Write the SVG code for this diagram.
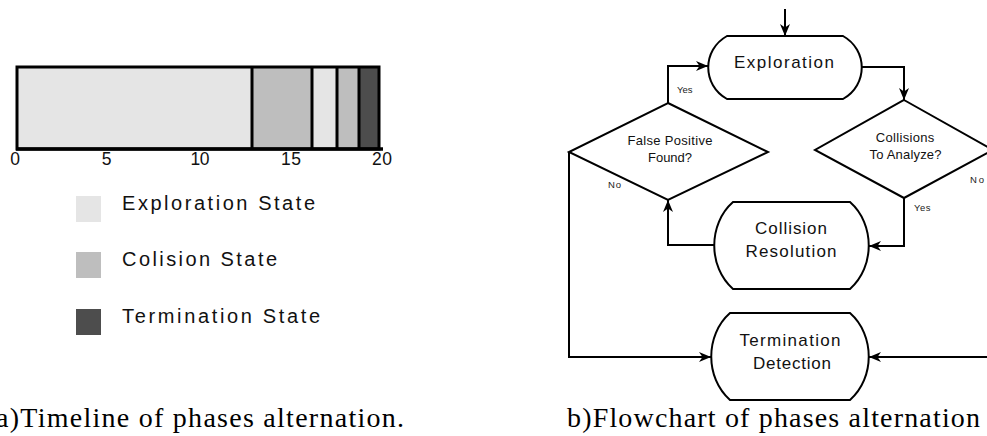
<svg xmlns="http://www.w3.org/2000/svg" width="987" height="436" viewBox="0 0 987 436">
<style>
.sans{font-family:"Liberation Sans",Arial,sans-serif;fill:#111;}
.serif{font-family:"Liberation Serif","Times New Roman",serif;fill:#000;font-size:28px;}
.node{fill:#fff;stroke:#000;stroke-width:2;}
.conn{fill:none;stroke:#000;stroke-width:2;}
.lbl{font-size:9.5px;fill:#222;}
.big{font-size:17px;text-anchor:middle;}
.mid{font-size:13px;text-anchor:middle;}
.leg{font-size:20px;}
.ax{font-size:17.5px;text-anchor:middle;}
.light{fill:#e5e5e5;}
.medium{fill:#bebebe;}
.dark{fill:#4d4d4d;}
.div{stroke:#000;stroke-width:3;}
</style>
<defs>
<marker id="arr" viewBox="0 0 12 10" refX="12" refY="5" markerWidth="12" markerHeight="10" markerUnits="userSpaceOnUse" orient="auto">
<path d="M0,0 L12,5 L0,10 L3.5,5 Z" fill="#000"/>
</marker>
</defs>
<rect width="987" height="436" fill="#fff"/>

<g id="timeline">
<rect class="light" x="17" y="67" width="235" height="82"/>
<rect class="medium" x="252" y="67" width="60" height="82"/>
<rect class="light" x="312" y="67" width="25" height="82"/>
<rect class="medium" x="337" y="67" width="22" height="82"/>
<rect class="dark" x="359" y="67" width="20" height="82"/>
<line class="div" x1="252" y1="67" x2="252" y2="149"/>
<line class="div" x1="312" y1="67" x2="312" y2="149"/>
<line class="div" x1="337" y1="67" x2="337" y2="149"/>
<line class="div" x1="359" y1="67" x2="359" y2="149"/>
<rect x="17" y="67" width="362" height="82" fill="none" stroke="#000" stroke-width="3"/>
<line x1="16" y1="149" x2="383" y2="149" stroke="#000" stroke-width="3.5"/>
<text class="sans ax" x="15" y="165">0</text>
<text class="sans ax" x="106.5" y="165">5</text>
<text class="sans ax" x="200" y="165" textLength="19" lengthAdjust="spacing">10</text>
<text class="sans ax" x="291" y="165" textLength="20" lengthAdjust="spacing">15</text>
<text class="sans ax" x="382" y="165" textLength="20" lengthAdjust="spacing">20</text>
</g>

<g id="legend">
<rect class="light" x="76" y="196" width="25" height="26"/>
<text class="sans leg" x="122" y="210" textLength="193" lengthAdjust="spacing">Exploration State</text>
<rect class="medium" x="76" y="252" width="25" height="26"/>
<text class="sans leg" x="122" y="266" textLength="155" lengthAdjust="spacing">Colision State</text>
<rect class="dark" x="76" y="309" width="25" height="26"/>
<text class="sans leg" x="122" y="323" textLength="198" lengthAdjust="spacing">Termination State</text>
</g>

<g id="connectors">
<polyline class="conn" points="785,9 785,36" marker-end="url(#arr)"/>
<polyline class="conn" points="862,67 904,67 904,100" marker-end="url(#arr)"/>
<polyline class="conn" points="904,198 904,246 869,246" marker-end="url(#arr)"/>
<polyline class="conn" points="714,245 668,245 668,200" marker-end="url(#arr)"/>
<polyline class="conn" points="668,103 668,66 708,66" marker-end="url(#arr)"/>
<polyline class="conn" points="569,152 569,357 711,357" marker-end="url(#arr)"/>
<polyline class="conn" points="993,150 993,357 869,357" marker-end="url(#arr)"/>
<text class="sans lbl" x="677" y="93" textLength="15.5" lengthAdjust="spacing">Yes</text>
<text class="sans lbl" x="608" y="188" textLength="13" lengthAdjust="spacing">No</text>
<text class="sans lbl" x="914" y="211" textLength="16.5" lengthAdjust="spacing">Yes</text>
<text class="sans lbl" x="970" y="183" textLength="14" lengthAdjust="spacing">No</text>
</g>

<g id="exploration">
<path class="node" d="M727,36 H843 C868,50 868,85 843,99 H727 C702,85 702,50 727,36 Z"/>
<text class="sans big" x="784" y="68" textLength="100" lengthAdjust="spacing">Exploration</text>
</g>

<g id="false-positive">
<polygon class="node" points="668,103 768,152 668,200 569,152"/>
<text class="sans mid" x="670" y="145" textLength="85" lengthAdjust="spacing">False Positive</text>
<text class="sans mid" x="670" y="162" textLength="44" lengthAdjust="spacing">Found?</text>
</g>

<g id="collisions-to-analyze">
<polygon class="node" points="904,100 993,150 904,198 815,150"/>
<text class="sans mid" x="905" y="142" textLength="58.5" lengthAdjust="spacing">Collisions</text>
<text class="sans mid" x="905.5" y="159" textLength="72" lengthAdjust="spacing">To Analyze?</text>
</g>

<g id="collision-resolution">
<path class="node" d="M733,202 H850 C875,224 875,267 850,289 H733 C708,267 708,224 733,202 Z"/>
<text class="sans big" x="791" y="234" textLength="72" lengthAdjust="spacing">Collision</text>
<text class="sans big" x="791" y="257" textLength="91" lengthAdjust="spacing">Resolution</text>
</g>

<g id="termination-detection">
<path class="node" d="M730,313 H850 C875,335 875,378 850,400 H730 C705,378 705,335 730,313 Z"/>
<text class="sans big" x="790" y="346" textLength="101" lengthAdjust="spacing">Termination</text>
<text class="sans big" x="792" y="369" textLength="78" lengthAdjust="spacing">Detection</text>
</g>

<g id="captions">
<text class="serif" x="-4" y="427" textLength="408" lengthAdjust="spacing">a)Timeline of phases alternation.</text>
<text class="serif" x="567" y="427" textLength="413" lengthAdjust="spacing">b)Flowchart of phases alternation</text>
</g>
</svg>
